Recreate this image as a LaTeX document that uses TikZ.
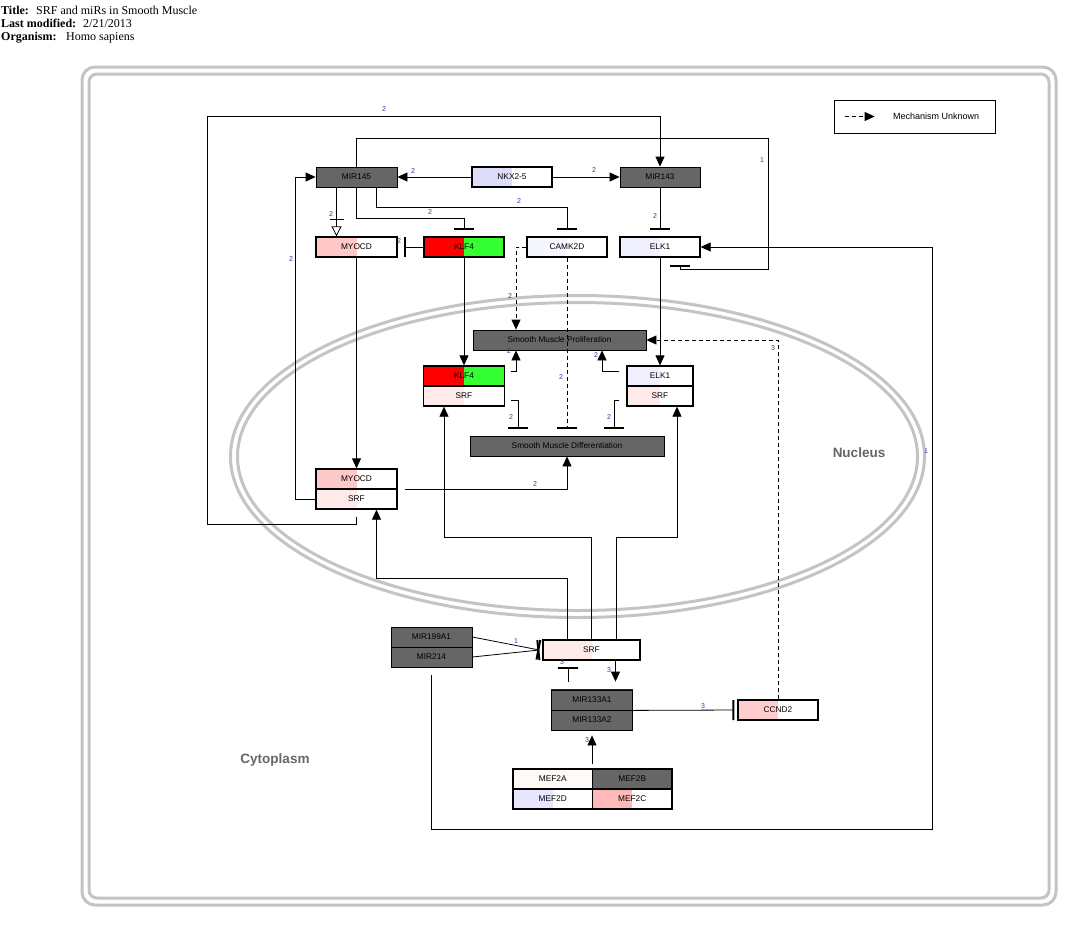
\documentclass[tikz,border=0pt]{standalone}
\usepackage{fontspec}
\setmainfont{Liberation Serif}
\setsansfont{Liberation Sans}
\usetikzlibrary{arrows.meta}

\definecolor{mirgray}{RGB}{102,102,102}
\definecolor{cellgray}{RGB}{196,196,196}
\definecolor{labelgray}{RGB}{102,102,102}
\definecolor{labblue}{RGB}{51,51,170}
\definecolor{nkxcol}{RGB}{221,221,250}
\definecolor{myocol}{RGB}{255,200,200}
\definecolor{camcol}{RGB}{246,246,255}
\definecolor{elkcol}{RGB}{240,240,255}
\definecolor{klfred}{RGB}{255,0,0}
\definecolor{klfgreen}{RGB}{51,255,51}
\definecolor{srfcol}{RGB}{255,234,234}
\definecolor{mefa}{RGB}{255,250,246}
\definecolor{mefd}{RGB}{230,230,255}
\definecolor{mefc}{RGB}{255,185,185}
\definecolor{ccndcol}{RGB}{255,205,205}

\tikzset{
  gene/.style={draw, line width=1.3pt, fill=white, minimum width=81pt, minimum height=20pt,
    inner sep=0pt, font=\sffamily\fontsize{8.3}{9}\selectfont},
  mirna/.style={gene, fill=mirgray, line width=0.8pt},
  pheno/.style={draw, line width=0.8pt, fill=mirgray, minimum height=20pt, inner sep=0pt,
    font=\sffamily\fontsize{8.3}{9}\selectfont},
  half/.style={path picture={\fill[#1] (path picture bounding box.south west)
    rectangle (path picture bounding box.north);}},
  wire/.style={line width=0.8pt},
  arr/.style={wire, -{Triangle[length=10pt,width=9pt]}},
  inh/.style={wire, -{Bar[width=20pt,line width=2pt]}, shorten >=6pt},
  dashline/.style={dash pattern=on 4pt off 3pt},
  cnt/.style={text=labblue, font=\sffamily\fontsize{7}{8}\selectfont, inner sep=0pt},
  region/.style={text=labelgray, font=\sffamily\bfseries\fontsize{13.5}{15}\selectfont},
  head/.style={anchor=base west, inner sep=0pt, font=\fontsize{12}{14}\selectfont}
}

\begin{document}
\begin{tikzpicture}[x=1pt, y=-1pt]
\useasboundingbox (0,0) rectangle (1084,929);
\fill[white] (0,0) rectangle (1084,929);

% header
\node[head] (t1) at (1,14) {\textbf{Title:}};
\node[head] (t1v) at (36,14) {SRF and miRs in Smooth Muscle};
\node[head] (t2) at (1,27) {\textbf{Last modified:}};
\node[head] (t2v) at (83,27) {2/21/2013};
\node[head] (t3) at (1,40) {\textbf{Organism:}};
\node[head] (t3v) at (66,40) {Homo sapiens};

% cell and nucleus outlines
\draw[cellgray, line width=3pt, rounded corners=13pt] (82,67) rectangle (1056,905);
\draw[cellgray, line width=3pt, rounded corners=8pt] (89,74) rectangle (1049,898);
\draw[cellgray, line width=3pt] (577.5,456.5) ellipse [x radius=347, y radius=161];
\draw[cellgray, line width=3pt] (577.5,456.5) ellipse [x radius=340, y radius=154];
\node[region] (nucleus) at (859,453) {Nucleus};
\node[region] (cyto) at (275,760) {Cytoplasm};

% legend
\node[draw, line width=0.8pt, minimum width=161pt, minimum height=33pt, inner sep=0pt] (legend) at (914.5,116.5) {};
\node[anchor=west, inner sep=0pt, font=\sffamily\fontsize{9}{10}\selectfont] (legtext) at (893,116.5) {Mechanism Unknown};
\coordinate (legstart) at ([xshift=11pt]legend.west);
\coordinate (legend-tip) at ([xshift=41pt]legend.west);
\draw[arr, dashline] (legstart) -- (legend-tip);

% genes and miRNAs
\node[mirna] (mir145) at (356.5,177) {MIR145};
\node[gene, half=nkxcol, minimum width=80pt] (nkx) at (512,177) {NKX2-5};
\node[mirna, minimum width=80pt] (mir143) at (660,177) {MIR143};
\node[gene, half=myocol] (myocd) at (356.5,247) {MYOCD};
\node[gene, fill=klfgreen, half=klfred, minimum width=80pt] (klf4) at (464,247) {KLF4};
\node[gene, half=camcol, minimum width=80pt] (camk2d) at (567,247) {CAMK2D};
\node[gene, half=elkcol, minimum width=80pt] (elk1) at (660,247) {ELK1};

% phenotypes
\node[pheno, minimum width=173pt] (prolif) at (559.5,340) {Smooth Muscle Proliferation};
\node[pheno, minimum width=194pt] (diff) at (567,446) {Smooth Muscle Differentiation};

% complexes in the nucleus
\node[gene, fill=klfgreen, half=klfred] (klf4b) at (464,376) {KLF4};
\node[gene, half=srfcol] (srfk) at (464,396) {SRF};
\node[gene, half=elkcol, minimum width=66pt] (elk1b) at (660,376) {ELK1};
\node[gene, half=srfcol, minimum width=66pt] (srfe) at (660,396) {SRF};
\node[gene, half=myocol] (myocdb) at (356.5,479) {MYOCD};
\node[gene, half=srfcol] (srfm) at (356.5,499) {SRF};

% cytoplasm
\node[mirna] (mir199) at (431.5,637) {MIR199A1};
\node[mirna] (mir214) at (431.5,657) {MIR214};
\node[gene, half=srfcol, minimum width=97pt] (srf) at (591.5,650) {SRF};
\node[mirna] (m133a) at (592,700) {MIR133A1};
\node[mirna] (m133b) at (592,720) {MIR133A2};
\draw[violet!80!black, line width=1.3pt] (m133a.north west) -- (m133a.north east);
\node[gene, half=ccndcol, minimum width=80pt] (ccnd2) at (778,710) {CCND2};
\node[gene, fill=mefa, minimum width=79.5pt] (mef2a) at (552.75,779) {MEF2A};
\node[mirna, line width=1.3pt, minimum width=79.5pt] (mef2b) at (632.25,779) {MEF2B};
\node[gene, half=mefd, minimum width=79.5pt] (mef2d) at (552.75,799) {MEF2D};
\node[gene, half=mefc, minimum width=79.5pt] (mef2c) at (632.25,799) {MEF2C};

% regulation among the upper genes
\draw[arr] (nkx.west) -- (mir145.east);
\draw[arr] (nkx.east) -- (mir143.west);
\draw[wire, -{Triangle[open,length=10pt,width=10pt]}] ([xshift=-20pt]mir145.south) -- ([xshift=-20pt]myocd.north);
\draw[wire, -{Bar[width=14pt,line width=1pt]}] ([xshift=-20pt]mir145.south) -- ([xshift=-20pt,yshift=16pt]myocd.north);
\draw[inh] (mir145.south) -- ++(0,31) -| (klf4.north);
\draw[inh] ([xshift=20pt]mir145.south) -- ++(0,20) -| (camk2d.north);
\draw[inh] (mir143.south) -- (elk1.north);
\draw[inh] (klf4.west) -- (myocd.east);
\draw[inh, shorten >=7pt] (mir145.north) |- (768,138) -- (768,269) -| ([xshift=20pt]elk1.south);
\draw[arr] ([yshift=-7pt]srfm.south) |- (207,524) -- (207,116) -| (mir143.north);
\draw[arr] (srfm.west) -- ++(-20,0) |- (mir145.west);
\draw[arr] ([yshift=-8pt]mir214.south) |- (932,829) |- (elk1.east);

% gene to complex
\draw[arr] (klf4.south) -- (klf4b.north);
\draw[arr] (elk1.south) -- (elk1b.north);
\draw[arr] (myocd.south) -- (myocdb.north);

% effects on the phenotypes
\draw[arr, dashline] (camk2d.west) -| ([xshift=-43.5pt]prolif.north);
\draw[inh, dashline, shorten >=7pt] (camk2d.south) -- (camk2d.south |- diff.north);
\draw[arr] ([xshift=6pt,yshift=5pt]klf4b.east) -| ([xshift=-43.5pt]prolif.south);
\draw[arr] ([xshift=-7pt,yshift=5pt]elk1b.west) -| ([xshift=42.5pt]prolif.south);
\draw[inh, shorten >=7pt] ([xshift=6pt,yshift=-4pt]srfk.east) -| ([xshift=-49pt]diff.north);
\draw[inh, shorten >=7pt] ([xshift=-7pt,yshift=-4pt]srfe.west) -| ([xshift=47pt]diff.north);
\draw[arr] ([xshift=7pt]myocdb.south east) -| (diff.south);
\draw[arr, dashline] (ccnd2.north) |- (prolif.east);

% SRF feeding the complexes
\draw[arr] ([xshift=-24pt]srf.north) -- ++(0,-61) -| ([xshift=20pt]srfm.south);
\draw[arr] (srf.north) -- ++(0,-102) -| ([xshift=-20pt]srfk.south);
\draw[arr] ([xshift=24.5pt]srf.north) -- ++(0,-102) -| ([xshift=17pt]srfe.south);

% cytoplasmic regulation
\coordinate (srfbar) at ([xshift=-3pt]srf.west);
\draw[wire, -{Bar[width=20pt,line width=2pt]}] (mir199.east) -- (srfbar);
\draw[wire, -{Bar[width=20pt,line width=2pt]}] (mir214.east) -- (srfbar);
\draw[inh] ([xshift=-24pt,yshift=8pt]m133a.north) -- ([xshift=-23.5pt]srf.south);
\draw[arr, shorten >=8pt] ([xshift=24pt]srf.south) -- ([xshift=23.5pt]m133a.north);
\draw[inh, shorten >=3pt] (m133a.south east) -- (ccnd2.west);
\draw[arr, shorten <=4pt, shorten >=5pt] (m133b.south |- mef2a.north) -- (m133b.south);

% reference counts
\node[cnt] (n1) at (384,109) {2};
\node[cnt] (n2) at (762,160) {1};
\node[cnt] (n3) at (413,171) {2};
\node[cnt] (n4) at (594,170) {2};
\node[cnt] (n5) at (331,214) {2};
\node[cnt] (n6) at (430,212) {2};
\node[cnt] (n7) at (519,201) {2};
\node[cnt] (n8) at (655,216) {2};
\node[cnt] (n9) at (399,241) {2};
\node[cnt] (n10) at (291,259) {2};
\node[cnt] (n11) at (510,296) {2};
\node[cnt] (n12) at (509,351) {2};
\node[cnt] (n13) at (596,355) {2};
\node[cnt] (n14) at (561,377) {2};
\node[cnt] (n15) at (511,417) {2};
\node[cnt] (n16) at (609,417) {2};
\node[cnt] (n17) at (773,348) {3};
\node[cnt] (n18) at (926,451) {1};
\node[cnt] (n19) at (535,484) {2};
\node[cnt] (n20) at (516,641) {1};
\node[cnt] (n21) at (562,662) {3};
\node[cnt] (n22) at (609,670) {3};
\node[cnt] (n23) at (703,706) {3};
\node[cnt] (n24) at (587,740) {3};
\end{tikzpicture}
\end{document}
